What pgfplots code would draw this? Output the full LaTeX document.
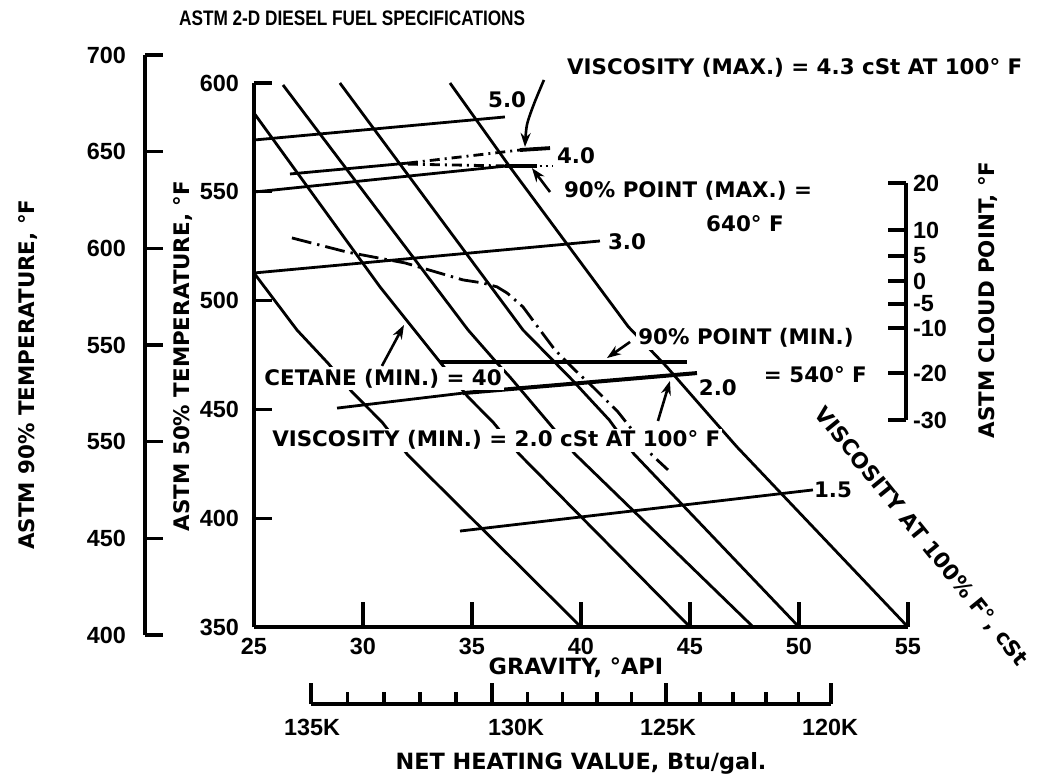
\documentclass[border=0pt]{standalone}
\usepackage{fontspec}
\setmainfont{Liberation Sans}
\newfontfamily\dv{DejaVu Sans}
\usepackage{graphicx}
\usepackage{pgfplots}
\pgfplotsset{compat=1.18}
\usetikzlibrary{arrows.meta}

\newcommand\tkf{\fontsize{11.7pt}{13pt}\selectfont\bfseries}
\newcommand\ann{\dv\fontsize{10.7pt}{12.5pt}\selectfont\bfseries}
\newcommand\cnd{\dv\fontsize{11.2pt}{13pt}\selectfont\bfseries}

\pgfplotsset{
  ln/.style={black, line width=1.4pt, no markers},
  tk/.style={tick align=inside, tick style={line width=1.6pt, black},
    axis line style={line width=1.8pt, -}},
  arr/.style={black, line width=1.3pt, no markers, -{Stealth[length=7pt,width=5pt]}},
}
\tikzset{gap/.style={font=\ann, fill=white, inner sep=1pt}}

\begin{document}
\begin{tikzpicture}
\useasboundingbox (0,0) rectangle (523pt,-389pt);

% ASTM 90% temperature scale
\begin{axis}[tk, at={(72.5pt,-317.5pt)}, anchor=south west,
  scale only axis, width=10pt, height=290pt,
  xmin=0, xmax=1, ymin=400, ymax=700,
  axis x line=none, axis y line*=left,
  ytick={400,450,...,700}, yticklabels={400,450,550,550,600,650,700},
  major tick length=9pt,
  yticklabel style={font=\tkf, xshift=-6pt}]
\end{axis}

% ASTM cloud point scale
\begin{axis}[tk, at={(453pt,-210pt)}, anchor=south east,
  scale only axis, width=10pt, height=118.5pt,
  xmin=0, xmax=1, ymin=0, ymax=237,
  axis x line=none, axis y line*=right,
  ytick={0,47,92,116,139,164,190,237},
  yticklabels={-30,-20,-10,-5,0,5,10,20},
  major tick length=9pt,
  yticklabel style={font=\tkf}]
\end{axis}

% net heating value scale
\begin{axis}[tk, at={(155.5pt,-352pt)}, anchor=south west,
  scale only axis, width=260pt, height=10pt,
  xmin=0, xmax=520, ymin=0, ymax=1,
  axis y line=none, axis x line*=bottom,
  xtick={0,181,355,520}, xticklabels=\empty,
  minor xtick={36.5,73,109,145,216.5,251.5,286,320.5,389,422,455,487.5},
  major tick length=10.5pt, minor tick length=6pt, clip=false]
\node[font=\tkf, yshift=-11.5pt] at (1,0) {135K};
\node[font=\tkf, yshift=-11.5pt] at (205,0) {130K};
\node[font=\tkf, yshift=-11.5pt] at (357,0) {125K};
\node[font=\tkf, yshift=-11.5pt] at (519,0) {120K};
\end{axis}

% ASTM 50% temperature ticks
\begin{axis}[tk, at={(127pt,-313.5pt)}, anchor=south west,
  scale only axis, width=327pt, height=272pt,
  xmin=25, xmax=55, ymin=350, ymax=600,
  axis x line=none, axis y line*=left,
  ytick={350,400,...,600}, yticklabels={350,400,450,500,550,600},
  major tick length=9pt,
  yticklabel style={font=\tkf, xshift=-4pt}]
\end{axis}

% main chart: gravity vs 50% temperature
\begin{axis}[tk, at={(127pt,-313.5pt)}, anchor=south west,
  scale only axis, width=327pt, height=272pt,
  xmin=25, xmax=55, ymin=350, ymax=600,
  axis x line*=bottom, axis y line*=left,
  xtick={25,30,...,55}, xticklabels={25,30,35,40,45,50,55}, ytick=\empty,
  major tick length=12.5pt,
  xticklabel style={font=\tkf, yshift=-2pt}, clip=false]

% cetane lines
\addplot[ln] coordinates {(25,512.7) (26.97,486.5) (28.39,471.3) (29.50,458.0) (30.87,444.2) (32.06,429.0) (40,350)};
\addplot[ln] coordinates {(25,586.2) (30.78,506.3) (33.53,471.8) (34.82,455.7) (35.96,444.2) (37.16,429.5) (45,350)};
\addplot[ln] coordinates {(26.33,599.1) (34.82,486.5) (36.15,471.3) (36.74,464.9) (38.49,444.2) (39.72,429.5) (47.9,350)};
\addplot[ln] coordinates {(28.94,600) (33.6,537) (37.34,486.5) (39.6,463.5) (41.3,445.1) (42.43,429.5) (50,350)};
\addplot[ln] coordinates {(33.99,600) (36.74,561.4) (42.17,488.0) (43.93,469.6) (46.07,445.1) (47.16,432.7) (55,350)};

% cloud point curve
\addplot[ln, dash pattern=on 10pt off 3pt on 1.2pt off 3pt] coordinates {
  (26.74,528.8) (29.27,522.3) (31.93,517.3) (34.59,509.5) (35.50,508.1) (36.15,506.3)
  (36.61,503.5) (37.34,497.1) (38.12,486.5) (38.81,477.3) (39.72,468.1) (40.55,460.3)
  (41.70,448.8) (43.26,429.0) (43.99,422.2)};

% viscosity lines
\addplot[ln] coordinates {(25,573.8) (36.51,584.4)};
\addplot[ln] coordinates {(26.65,558.2) (32.06,563.2)};
\addplot[ln, dash pattern=on 5pt off 2.5pt on 1pt off 2.5pt] coordinates {(32.06,563.2) (37.2,569.2)};
\addplot[ln, line width=1.9pt] coordinates {(37.2,569.2) (38.58,570.1)};
\addplot[ln] coordinates {(25,549.9) (36.61,561.9)};
\addplot[ln, dash pattern=on 5pt off 2.5pt on 1pt off 2.5pt] coordinates {(32.06,562.7) (36.5,561.9)};
\addplot[ln, line width=2.1pt] coordinates {(36.5,561.9) (37.98,561.9)};
\addplot[ln, dash pattern=on 1.2pt off 2pt] coordinates {(38.1,561.9) (38.7,561.9)};
\addplot[ln] coordinates {(25,512.7) (40.87,527.4)};
\addplot[ln] coordinates {(28.81,450.6) (34.59,457.5)};
\addplot[ln, line width=2pt] coordinates {(34.59,457.5) (45.32,466.7)};
\addplot[ln] coordinates {(34.45,394.1) (50.64,413.0)};

% 90% point (min.) = 540 F
\addplot[ln, line width=2.1pt] coordinates {(33.53,471.8) (44.86,471.8)};

% labels
\node[anchor=west] at (21.24,629.9) {\scalebox{0.82}[1]{\fontsize{10.5pt}{12pt}\selectfont\bfseries ASTM 2-D DIESEL FUEL SPECIFICATIONS}};
\node[font=\ann, anchor=west] at (39.04,606.9) {VISCOSITY (MAX.) = 4.3 cSt AT 100° F};
\node[font=\ann] at (36.61,592.2) {5.0};
\node[font=\ann] at (39.77,566.5) {4.0};
\node[font=\ann, anchor=west] at (38.90,550.4) {90\% POINT (MAX.) =};
\node[font=\ann] at (47.52,535.2) {640° F};
\node[font=\ann] at (42.11,526.9) {3.0};
\node[gap, anchor=west] at (42.52,482.8) {90\% POINT (MIN.)};
\node[font=\ann, anchor=west] at (48.07,465.8) {= 540° F};
\node[gap, anchor=west] at (25.37,464.0) {CETANE (MIN.) = 40};
\node[font=\ann] at (46.28,459.8) {2.0};
\node[gap, anchor=west] at (25.73,435.9) {VISCOSITY (MIN.) = 2.0 cSt AT 100° F};
\node[font=\ann] at (51.56,413.0) {1.5};
\node[font=\ann, rotate=-51] at (55.6,391.4) {VISCOSITY AT 100\% F°, cSt};
\node[font=\ann, rotate=90] at (58.67,500.3) {ASTM CLOUD POINT, °F};
\node[font=\ann, rotate=90] at (21.74,474.5) {ASTM 50\% TEMPERATURE, °F};
\node[font=\ann, rotate=90] at (14.63,466.0) {ASTM 90\% TEMPERATURE, °F};
\node[font=\cnd] at (39.77,331.2) {GRAVITY, °API};
\node[font=\cnd] at (40.0,287.5) {NET HEATING VALUE, Btu/gal.};

% arrows
\addplot[arr, smooth] coordinates {(38.30,601.4) (37.84,590.3) (37.52,580.7) (37.43,570.6)};
\addplot[arr] coordinates {(38.58,549.9) (37.75,560.9)};
\addplot[arr] coordinates {(42.25,481.0) (41.19,473.6)};
\addplot[arr] coordinates {(30.87,470.0) (31.88,488.8)};
\addplot[arr] coordinates {(43.53,444.7) (44.08,463.1)};
\end{axis}
\end{tikzpicture}
\end{document}
